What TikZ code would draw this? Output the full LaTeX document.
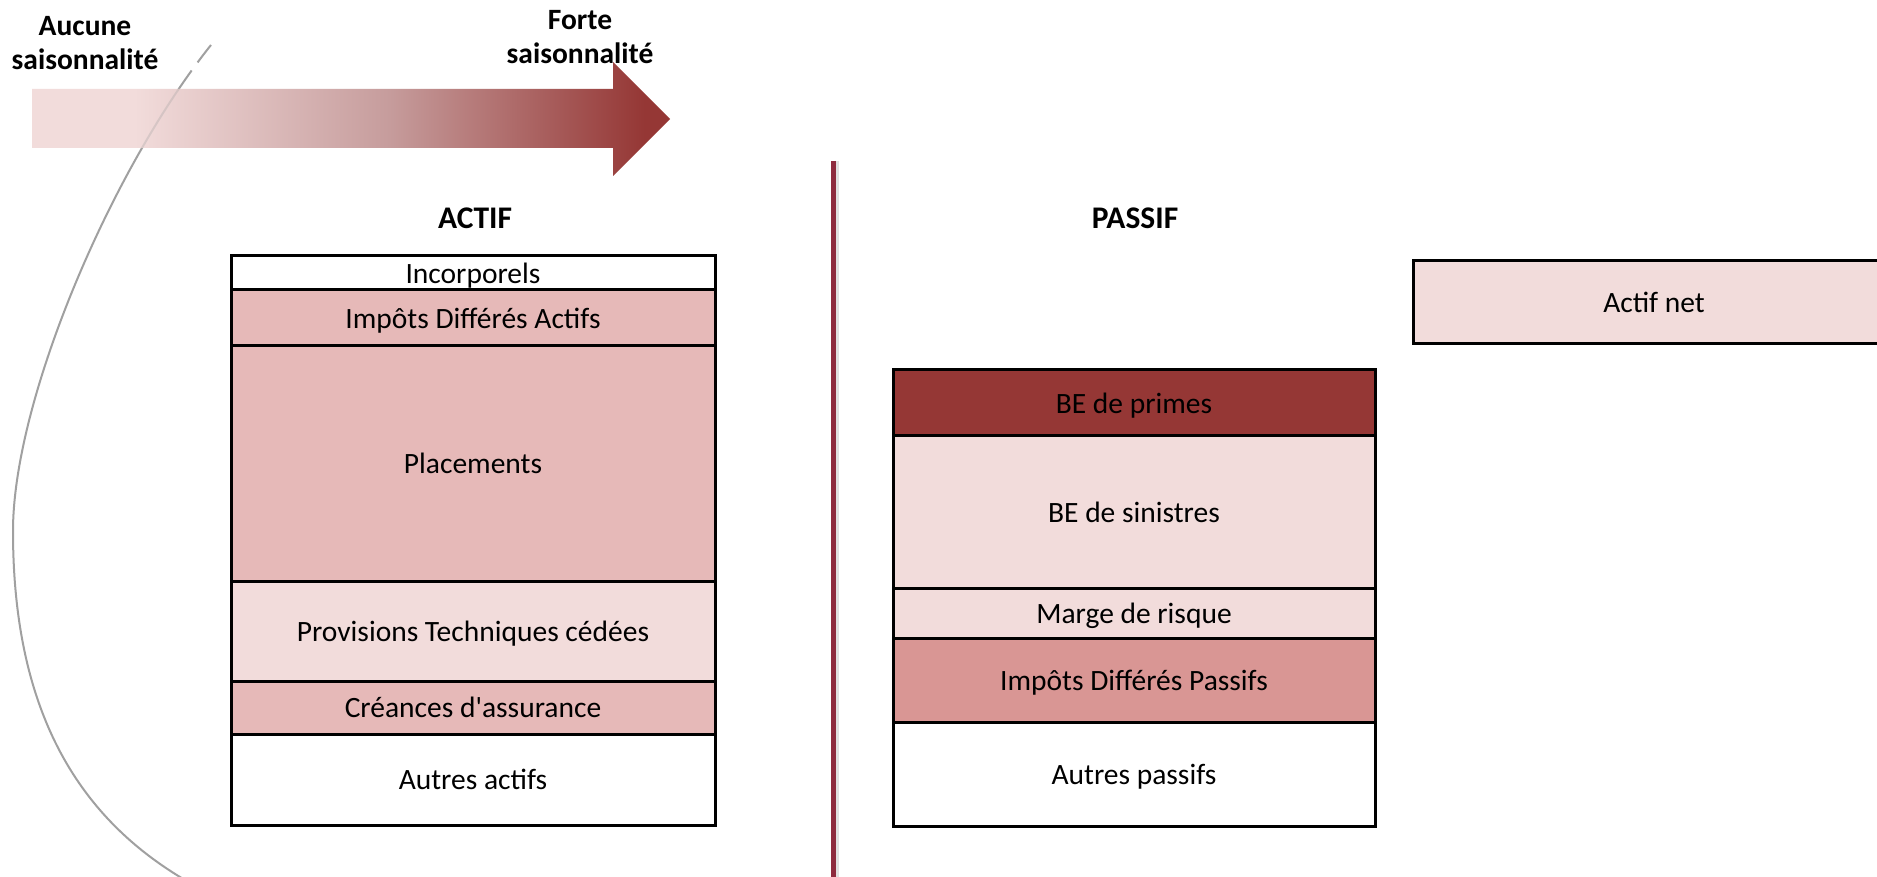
\documentclass[tikz,border=0pt]{standalone}
\usepackage{fontspec}
\setmainfont{Carlito}
\definecolor{pinkL}{RGB}{242,220,219}
\definecolor{pinkM}{RGB}{230,185,184}
\definecolor{pinkD}{RGB}{217,150,148}
\definecolor{redD}{RGB}{149,55,53}
\definecolor{sepred}{RGB}{142,43,62}
\definecolor{midgrad}{RGB}{198,156,156}
\definecolor{curvegray}{RGB}{160,160,160}
\pgfdeclarehorizontalshading{arrowgrad}{100bp}{color(0bp)=(pinkL); color(25bp)=(pinkL); color(33bp)=(pinkL); color(53bp)=(midgrad); color(73bp)=(redD); color(100bp)=(redD)}
\begin{document}
\begin{tikzpicture}[x=0.4pt,y=-0.4pt,
  cell/.style={draw=black, line width=1.2pt},
  celltext/.style={font=\fontsize{11.8}{14}\selectfont, text=black, inner sep=0pt, text height=10pt, text depth=1.8pt},
  arrowlabel/.style={font=\fontsize{11.8}{13.6}\selectfont\bfseries, align=center, inner sep=0pt},
  titletext/.style={font=\fontsize{12.6}{14}\selectfont\bfseries, inner sep=0pt}]
\useasboundingbox (0,0) rectangle (1877,877);
\fill[white] (0,0) rectangle (1877,877);

% grey curve (shape drawn directly)
\def\curvepath{(211,45) .. controls (111,170) and (13,400) .. (13,531) .. controls (13,700) and (70,810) .. (180,877) -- (196,888)}
\draw[curvegray, line width=0.8pt, dash pattern=on 8.8pt off 4pt on 4000pt] \curvepath;

% gradient arrow
\def\arrowpath{(32,89) -- (613,89) -- (613,62) -- (670,119) -- (613,176) -- (613,148) -- (32,148) -- cycle}
\shade[shading=arrowgrad] \arrowpath;
\begin{scope}
  \clip \arrowpath;
  \draw[curvegray, line width=0.8pt, draw opacity=0.3] \curvepath;
\end{scope}

% labels of the arrow
\node[arrowlabel, anchor=base] (aucune) at (85,70) {Aucune\\saisonnalité};
\node[arrowlabel, anchor=base] (forte) at (580,64) {Forte\\saisonnalité};

% separator
\coordinate (septop) at (833,161);
\coordinate (sepbot) at (833,885);
\draw[black!12, line width=3pt] ([xshift=0.8pt]septop) -- ([xshift=0.8pt]sepbot);
\draw[sepred, line width=2pt] (septop) -- (sepbot);

% titles
\node[titletext, anchor=base] (actif) at (475,229) {ACTIF};
\node[titletext, anchor=base] (passif) at (1135,229) {PASSIF};

% ACTIF column
\draw[cell, fill=white] (231,256) rectangle (715,290);
\node[celltext] (inc) at (473,273) {Incorporels};
\draw[cell, fill=pinkM] (231,290) rectangle (715,346);
\node[celltext] (ida) at (473,318) {Impôts Différés Actifs};
\draw[cell, fill=pinkM] (231,346) rectangle (715,581);
\node[celltext] (plac) at (473,463.5) {Placements};
\draw[cell, fill=pinkL] (231,581) rectangle (715,681);
\node[celltext] (prov) at (473,631) {Provisions Techniques cédées};
\draw[cell, fill=pinkM] (231,681) rectangle (715,734);
\node[celltext] (cre) at (473,707.5) {Créances d\textquotesingle assurance};
\draw[cell, fill=white] (231,734) rectangle (715,825);
\node[celltext] (autact) at (473,779.5) {Autres actifs};

% PASSIF column
\draw[cell, fill=redD] (893,370) rectangle (1375,436);
\node[celltext] (prim) at (1134,403) {BE de primes};
\draw[cell, fill=pinkL] (893,436) rectangle (1375,588);
\node[celltext] (sin) at (1134,512) {BE de sinistres};
\draw[cell, fill=pinkL] (893,588) rectangle (1375,638);
\node[celltext] (marge) at (1134,613) {Marge de risque};
\draw[cell, fill=pinkD] (893,638) rectangle (1375,722);
\node[celltext] (idp) at (1134,680) {Impôts Différés Passifs};
\draw[cell, fill=white] (893,722) rectangle (1375,826);
\node[celltext] (autpas) at (1134,774) {Autres passifs};

% Actif net
\draw[cell, fill=pinkL] (1413,261) rectangle (1895,344);
\node[celltext] (anet) at (1654,302.5) {Actif net};
\end{tikzpicture}
\end{document}
